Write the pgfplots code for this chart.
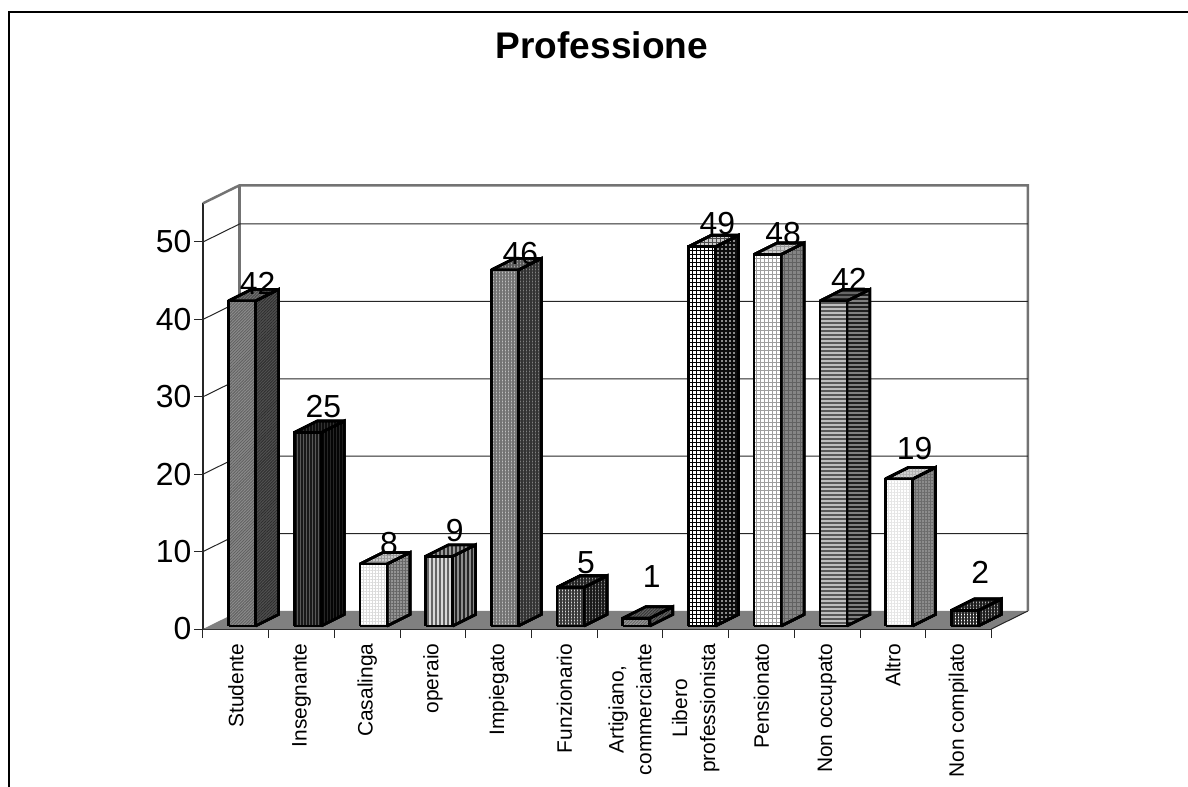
\documentclass[border=0pt]{standalone}
\usepackage{fontspec}
\setmainfont{Liberation Sans}
\usepackage{pgfplots}
\usepackage{pgfplotstable}
\pgfplotsset{compat=1.18}
\usetikzlibrary{patterns.meta}

% category position, value, baseline lift of the value label (px)
\pgfplotstableread{
idx val lift
0   42  6
1   25  15
2   8   10
3   9   15
4   46  5
5   5   14
6   1   31
7   49  12
8   48  10
9   42  10
10  19  19
11  2   27
}\profdata

% halftone fills: base colour, ink colour, spacing, line width
\tikzset{
  pat/.style n args={4}{preaction={pattern={Lines[angle=#1,distance=#3,line width=#4]},pattern color=#2}},
  solidfill/.style={preaction={fill=#1}},
  vstripe/.style n args={4}{solidfill=#1,pat={90}{#2}{#3}{#4}},
  hstripe/.style n args={4}{solidfill=#1,pat={0}{#2}{#3}{#4}},
  diag/.style n args={4}{solidfill=#1,pat={45}{#2}{#3}{#4}},
  mesh/.style n args={4}{solidfill=#1,pat={0}{#2}{#3}{#4},pat={90}{#2}{#3}{#4}},
  % faces of each bar
  f0/.style={diag={black!45}{black!62}{2.1bp}{0.9bp}},
  s0/.style={diag={black!68}{black!82}{2.1bp}{0.9bp}},
  t0/.style={diag={black!55}{black!72}{2.1bp}{0.9bp}},
  f1/.style={vstripe={black!90}{black!65}{3bp}{1bp}},
  s1/.style={vstripe={black!98}{black!85}{3bp}{1bp}},
  t1/.style={vstripe={black!95}{black!80}{3bp}{1bp}},
  f2/.style={mesh={white}{black!14}{3bp}{1bp}},
  s2/.style={mesh={black!42}{black!60}{3bp}{1bp}},
  t2/.style={mesh={black!22}{black!40}{3bp}{1bp}},
  f3/.style={vstripe={black!15}{black!60}{4bp}{1.8bp}},
  s3/.style={vstripe={black!45}{black!85}{4bp}{1.8bp}},
  t3/.style={vstripe={black!40}{black!80}{4bp}{1.8bp}},
  f4/.style={mesh={black!25}{black!55}{3bp}{1.1bp}},
  s4/.style={mesh={black!50}{black!80}{3bp}{1.1bp}},
  t4/.style={mesh={black!35}{black!65}{3bp}{1.1bp}},
  f5/.style={mesh={black!15}{black!78}{3bp}{1.3bp}},
  s5/.style={mesh={black!45}{black!90}{3bp}{1.3bp}},
  t5/.style={mesh={black!40}{black!85}{3bp}{1.3bp}},
  f6/.style={diag={black!40}{black!60}{2.1bp}{0.9bp}},
  s6/.style={diag={black!60}{black!80}{2.1bp}{0.9bp}},
  t6/.style={diag={black!60}{black!80}{2.1bp}{0.9bp}},
  f7/.style={mesh={white}{black}{4bp}{1bp}},
  s7/.style={mesh={black!45}{black!95}{4bp}{1.3bp}},
  t7/.style={mesh={black!20}{black!70}{4bp}{1bp}},
  f8/.style={mesh={white}{black!38}{4bp}{1bp}},
  s8/.style={mesh={black!48}{black!62}{4bp}{1bp}},
  t8/.style={mesh={black!20}{black!40}{4bp}{1bp}},
  f9/.style={hstripe={black!25}{black!65}{4bp}{1.8bp}},
  s9/.style={hstripe={black!50}{black!88}{4bp}{1.8bp}},
  t9/.style={hstripe={black!60}{black!85}{4bp}{1.8bp}},
  f10/.style={mesh={white}{black!10}{3bp}{1bp}},
  s10/.style={mesh={black!45}{black!58}{3bp}{1bp}},
  t10/.style={mesh={black!18}{black!30}{3bp}{1bp}},
  f11/.style={mesh={white}{black!85}{3bp}{1.1bp}},
  s11/.style={mesh={black!30}{black!88}{3bp}{1.1bp}},
  t11/.style={mesh={black!30}{black!88}{3bp}{1.1bp}},
}
\pgfplotsset{
  barline/.style={draw=black,line width=2.6bp,miter limit=4,forget plot,mark=none},
}

% one bar in oblique projection: side, top, front
\newcommand\oblique[1]{%
  \pgfplotstablegetelem{#1}{val}\of\profdata
  \pgfmathsetmacro\yb{0.39}
  \pgfmathsetmacro\yt{\pgfplotsretval+0.39}
  \pgfmathsetmacro\xa{#1+0.389}
  \pgfmathsetmacro\xb{\xa+0.411}
  \pgfmathsetmacro\xc{\xb+0.350}
  \pgfmathsetmacro\xd{\xa+0.350}
  \pgfmathsetmacro\yc{\yb+1.486}
  \pgfmathsetmacro\yu{\yt+1.486}
  \addplot[barline,s#1] coordinates {(\xb,\yb) (\xc,\yc) (\xc,\yu) (\xb,\yt) (\xb,\yb)};
  \addplot[barline,t#1] coordinates {(\xa,\yt) (\xb,\yt) (\xc,\yu) (\xd,\yu) (\xa,\yt)};
  \addplot[barline,f#1] coordinates {(\xa,\yb) (\xb,\yb) (\xb,\yt) (\xa,\yt) (\xa,\yb)};
}

\begin{document}
\begin{tikzpicture}
\useasboundingbox (-203bp,-158bp) rectangle (985bp,629bp);
\begin{axis}[
  x=65.7bp, y=7.74bp,
  xmin=0, xmax=12, ymin=0, ymax=55,
  clip=false,
  axis x line=bottom, axis y line=left,
  axis line style={-,draw=black!85,line width=1.4bp},
  tick align=outside,
  xtick={0.5,1.5,2.5,3.5,4.5,5.5,6.5,7.5,8.5,9.5,10.5,11.5},
  xticklabels={Studente,Insegnante,Casalinga,operaio,Impiegato,Funzionario,{Artigiano,\\commerciante},{Libero\\professionista},Pensionato,Non occupato,Altro,Non compilato},
  minor xtick={0,1,2,3,4,5,6,7,8,9,10,11,12},
  ytick={0,10,20,30,40,50},
  major tick length=8.5bp,
  minor tick length=9bp,
  x tick style={draw=none},
  minor x tick style={draw=black!85,line width=1bp},
  y tick style={draw=black!85,line width=1bp},
  x tick label style={rotate=90,anchor=east,align=center,font=\fontsize{21}{28}\selectfont,xshift=-6bp,inner sep=0pt},
  y tick label style={font=\fontsize{32}{34}\selectfont,inner sep=0pt,xshift=-3bp},
  /pgf/number format/assume math mode=true,
  title={Professione},
  title style={font=\fontsize{37.2}{40}\bfseries\selectfont,at={(0.506,1.325)},anchor=base,inner sep=0pt},
]
% floor
\addplot[fill=black!50,draw=none,forget plot,mark=none] coordinates {(0,0) (0.5556,2.326) (12.5556,2.326) (12,0) (0,0)};
\addplot[draw=black!85,line width=1bp,forget plot,mark=none] coordinates {(12,0) (12.5556,2.326)};
% walls
\addplot[draw=black!55,line width=2.5bp,forget plot,mark=none] coordinates {(0,55) (0.5556,57.326) (12.5556,57.326) (12.5556,2.326)};
\addplot[draw=black!55,line width=2.5bp,forget plot,mark=none] coordinates {(0.5556,57.326) (0.5556,2.326)};
% gridlines on both walls
\addplot[draw=black!85,line width=1bp,forget plot,mark=none] coordinates {(0,10) (0.5556,12.326) (12.5556,12.326)};
\addplot[draw=black!85,line width=1bp,forget plot,mark=none] coordinates {(0,20) (0.5556,22.326) (12.5556,22.326)};
\addplot[draw=black!85,line width=1bp,forget plot,mark=none] coordinates {(0,30) (0.5556,32.326) (12.5556,32.326)};
\addplot[draw=black!85,line width=1bp,forget plot,mark=none] coordinates {(0,40) (0.5556,42.326) (12.5556,42.326)};
\addplot[draw=black!85,line width=1bp,forget plot,mark=none] coordinates {(0,50) (0.5556,52.326) (12.5556,52.326)};
% bars
\oblique{0}\oblique{1}\oblique{2}\oblique{3}\oblique{4}\oblique{5}
\oblique{6}\oblique{7}\oblique{8}\oblique{9}\oblique{10}\oblique{11}
% value labels
\addplot[only marks,mark=none,forget plot,
  point meta=explicit symbolic,
  nodes near coords={\pgfplotspointmeta},
  nodes near coords style={anchor=base,inner sep=0pt,font=\fontsize{32}{34}\selectfont,text=black}]
  table[x expr=\thisrow{idx}+0.8305,
        y expr=\thisrow{val}+0.39+\thisrow{lift}/7.74,
        meta=val] {\profdata};
\end{axis}
% chart frame, cut off on two sides
\draw[line width=1.5bp,black] (-194bp,-158bp) -- (-194bp,617bp) -- (985bp,617bp);
\end{tikzpicture}
\end{document}
